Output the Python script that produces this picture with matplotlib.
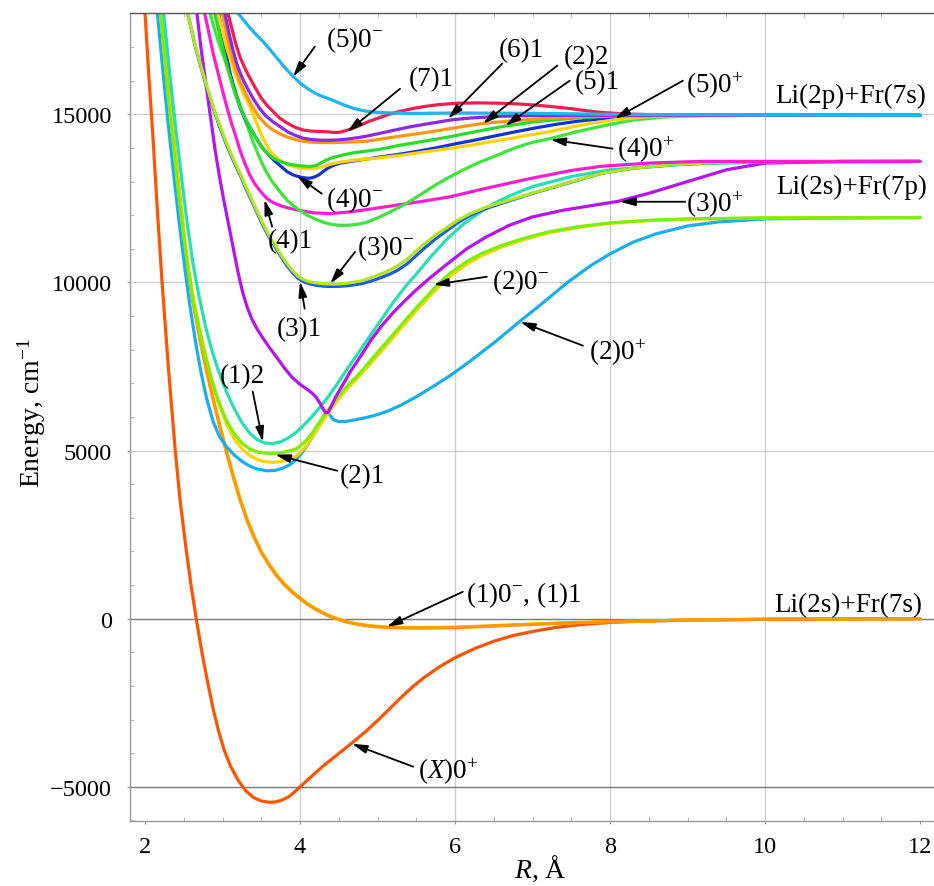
import numpy as np
import matplotlib
matplotlib.use('Agg')
import matplotlib.pyplot as plt

plt.rcParams['font.family'] = ['Liberation Serif', 'DejaVu Serif']
plt.rcParams['mathtext.fontset'] = 'custom'
plt.rcParams['mathtext.rm'] = 'Liberation Serif'
plt.rcParams['mathtext.it'] = 'Liberation Serif:italic'

# ---- potential curves (R in Angstrom, E in cm^-1) ----
# Li(2s)+Fr(7s)
R_X0p = [2.0, 2.05, 2.1, 2.16, 2.22, 2.3, 2.39, 2.45, 2.52, 2.59, 2.66, 2.73, 2.8, 2.88, 2.95, 3.02, 3.1,
         3.2, 3.3, 3.4, 3.5, 3.6, 3.68, 3.76, 3.85, 3.92, 4.0, 4.1, 4.2, 4.32, 4.45, 4.58, 4.7, 4.85, 5.0,
         5.15, 5.3, 5.45, 5.6, 5.8, 6.0, 6.25, 6.5, 6.75, 7.0, 7.3, 7.6, 8.0, 8.5, 9.0, 10.0, 11.0, 12.0]
E_X0p = [18000, 16100, 14400, 12100, 10000, 7500, 5000, 3570, 2250, 1050, 0, -950, -1800, -2700, -3350, -3900,
         -4370, -4800, -5120, -5320, -5420, -5460, -5450, -5400, -5300, -5170, -5000, -4790, -4580, -4340,
         -4100, -3860, -3640, -3350, -3030, -2690, -2350, -2030, -1750, -1430, -1160, -890, -670, -500, -380,
         -260, -180, -110, -65, -40, -15, -5, 0]

R_10m = [2.22, 2.3, 2.38, 2.46, 2.55, 2.62, 2.7, 2.79, 2.88, 2.96, 3.05, 3.14, 3.23, 3.32, 3.4, 3.5, 3.61,
         3.7, 3.8, 3.9, 4.0, 4.1, 4.2, 4.3, 4.39, 4.5, 4.6, 4.72, 4.85, 5.0, 5.12, 5.3, 5.5, 5.75, 6.0,
         6.25, 6.5, 7.0, 7.5, 8.0, 9.0, 10.0, 11.0, 12.0]
E_10m = [18000, 15900, 14000, 12300, 10400, 9400, 8400, 7400, 6500, 5750, 4950, 4200, 3500, 2900, 2450, 1970,
         1560, 1270, 1000, 780, 595, 420, 280, 160, 60, -30, -100, -160, -210, -245, -260, -275, -280, -278,
         -270, -245, -220, -170, -125, -90, -45, -20, -8, 0]
R_11 = R_10m
E_11 = [18000, 15950, 14050, 12350, 10450, 9450, 8450, 7450, 6550, 5800, 5000, 4250, 3540, 2940, 2490, 2000,
        1590, 1300, 1030, 810, 620, 445, 300, 180, 80, -12, -82, -142, -192, -228, -243, -258, -262, -260,
        -252, -230, -206, -158, -116, -84, -42, -18, -7, 0]

# Li(2s)+Fr(7p)
R_20p = [2.16, 2.23, 2.3, 2.38, 2.45, 2.52, 2.58, 2.65, 2.72, 2.8, 2.88, 2.96, 3.05, 3.15, 3.25, 3.35, 3.45,
         3.57, 3.68, 3.78, 3.87, 3.95, 4.03, 4.1, 4.17, 4.24, 4.3, 4.34, 4.38, 4.43, 4.5, 4.6, 4.72, 4.85,
         5.0, 5.15, 5.3, 5.5, 5.7, 5.95, 6.2, 6.5, 6.85, 7.1, 7.45, 7.75, 8.0, 8.3, 8.6, 9.0, 9.4, 10.0,
         11.0, 12.0]
E_20p = [18000, 16300, 14700, 13000, 11600, 10300, 9300, 8250, 7350, 6500, 5850, 5420, 5120, 4870, 4680, 4540,
         4450, 4400, 4410, 4480, 4580, 4740, 4950, 5180, 5450, 5750, 6000, 6130, 6070, 5920, 5860, 5870, 5920,
         5980, 6070, 6190, 6350, 6600, 6880, 7250, 7670, 8200, 8870, 9330, 10000, 10500, 10850, 11200, 11450,
         11680, 11800, 11890, 11920, 11930]

R_21 = [2.2, 2.27, 2.35, 2.42, 2.5, 2.56, 2.62, 2.7, 2.78, 2.86, 2.95, 3.05, 3.15, 3.25, 3.35, 3.45, 3.55,
        3.65, 3.75, 3.85, 3.96, 4.06, 4.16, 4.26, 4.36, 4.46, 4.6, 4.75, 4.9, 5.05, 5.2, 5.35, 5.5, 5.65,
        5.8, 5.95, 6.15, 6.35, 6.6, 6.9, 7.2, 7.6, 8.0, 8.5, 9.0, 10.0, 12.0]
E_21 = [18000, 16200, 14400, 12900, 11350, 10350, 9450, 8600, 7800, 7100, 6450, 5900, 5500, 5220, 5050, 4960,
        4920, 4910, 4930, 4980, 5060, 5250, 5530, 5880, 6200, 6500, 6900, 7250, 7650, 8050, 8450, 8850, 9250,
        9620, 10000, 10300, 10620, 10870, 11100, 11320, 11500, 11660, 11770, 11850, 11890, 11920, 11930]
R_20m = R_21
E_20m = [18000, 16300, 14600, 13050, 11500, 10450, 9600, 8650, 7850, 7100, 6400, 5800, 5350, 5050, 4850, 4730,
         4670, 4650, 4670, 4720, 4850, 5080, 5400, 5760, 6100, 6420, 6820, 7180, 7560, 7960, 8360, 8760, 9160,
         9530, 9900, 10210, 10540, 10800, 11050, 11280, 11470, 11640, 11760, 11840, 11885, 11918, 11930]

R_12 = [2.24, 2.32, 2.4, 2.48, 2.55, 2.62, 2.7, 2.78, 2.86, 2.95, 3.05, 3.15, 3.25, 3.35, 3.45, 3.55, 3.65,
        3.75, 3.85, 3.95, 4.05, 4.15, 4.25, 4.35, 4.45, 4.6, 4.75, 4.9, 5.05, 5.2, 5.35, 5.5, 5.7, 5.9, 6.1,
        6.3, 6.5, 6.75, 7.0, 7.5, 8.0, 9.0, 10.0, 12.0]
E_12 = [18000, 16200, 14500, 12950, 11650, 10550, 9550, 8700, 8000, 7350, 6750, 6250, 5830, 5520, 5320, 5220,
        5210, 5260, 5380, 5540, 5760, 6000, 6270, 6560, 6880, 7400, 7900, 8400, 8900, 9400, 9850, 10250, 10800,
        11300, 11720, 12050, 12350, 12620, 12850, 13150, 13350, 13520, 13580, 13600]

R_30p = [2.67, 2.72, 2.78, 2.84, 2.9, 2.96, 3.02, 3.08, 3.14, 3.2, 3.26, 3.32, 3.38, 3.45, 3.52, 3.6, 3.7,
         3.8, 3.9, 4.0, 4.08, 4.15, 4.21, 4.26, 4.3, 4.33, 4.36, 4.4, 4.46, 4.55, 4.65, 4.78, 4.92, 5.05,
         5.2, 5.35, 5.5, 5.7, 5.9, 6.15, 6.4, 6.7, 7.0, 7.4, 7.8, 8.1, 8.5, 9.0, 9.5, 10.0, 11.0, 12.0]
E_30p = [18000, 17000, 16000, 15000, 14000, 13150, 12400, 11700, 11000, 10300, 9700, 9250, 8900, 8600, 8350,
         8080, 7770, 7450, 7170, 6970, 6840, 6720, 6580, 6400, 6230, 6130, 6130, 6300, 6600, 6950, 7350, 7800,
         8300, 8700, 9100, 9450, 9780, 10180, 10550, 11000, 11350, 11700, 11950, 12150, 12300, 12410, 12650,
         13000, 13350, 13550, 13600, 13600]

R_31 = [2.55, 2.6, 2.65, 2.71, 2.77, 2.83, 2.88, 2.96, 3.05, 3.14, 3.23, 3.3, 3.38, 3.45, 3.52, 3.6, 3.68,
        3.76, 3.83, 3.9, 3.97, 4.04, 4.12, 4.2, 4.3, 4.39, 4.5, 4.6, 4.7, 4.81, 4.93, 5.05, 5.15, 5.25, 5.38,
        5.5, 5.62, 5.75, 5.9, 6.05, 6.2, 6.4, 6.6, 6.8, 7.0, 7.3, 7.6, 7.9, 8.3, 8.8, 9.4, 10.0, 12.0]
E_31 = [18000, 17500, 17000, 16500, 16000, 15550, 15180, 14650, 14100, 13620, 13180, 12800, 12400, 12050, 11700,
        11350, 11050, 10750, 10500, 10300, 10130, 10030, 9960, 9920, 9890, 9880, 9885, 9900, 9930, 9970, 10050,
        10150, 10240, 10350, 10550, 10800, 11050, 11300, 11550, 11800, 12000, 12200, 12350, 12500, 12650, 12850,
        13050, 13250, 13400, 13500, 13570, 13590, 13600]
R_30m = R_31
E_30m = [18000, 17520, 17030, 16530, 16040, 15590, 15220, 14700, 14150, 13670, 13230, 12850, 12450, 12100, 11750,
         11400, 11100, 10800, 10560, 10360, 10190, 10090, 10020, 9990, 9960, 9950, 9955, 9975, 10010, 10060, 10150,
         10260, 10360, 10480, 10690, 10940, 11180, 11410, 11640, 11870, 12050, 12240, 12380, 12520, 12660, 12860,
         13060, 13250, 13400, 13500, 13570, 13590, 13600]

R_41 = [2.77, 2.83, 2.88, 2.94, 3.0, 3.06, 3.12, 3.18, 3.23, 3.29, 3.35, 3.42, 3.5, 3.57, 3.65, 3.75, 3.87,
        4.0, 4.17, 4.4, 4.65, 4.9, 5.25, 5.6, 5.94, 6.4, 6.97, 7.5, 7.87, 8.5, 9.16, 10.0, 12.0]
E_41 = [18000, 17350, 16800, 16250, 15700, 15180, 14700, 14280, 13900, 13530, 13200, 12920, 12680, 12500, 12380,
        12280, 12200, 12140, 12070, 12050, 12100, 12180, 12300, 12420, 12550, 12800, 13090, 13330, 13450, 13550,
        13600, 13600, 13600]

# Li(2p)+Fr(7s)
R_40p = [2.84, 2.9, 2.97, 3.04, 3.1, 3.18, 3.25, 3.32, 3.39, 3.47, 3.55, 3.64, 3.74, 3.84, 3.95, 4.09, 4.2,
         4.3, 4.4, 4.5, 4.62, 4.74, 4.85, 5.0, 5.15, 5.3, 5.45, 5.6, 5.75, 5.9, 6.1, 6.3, 6.54, 6.75, 6.97,
         7.23, 7.6, 8.0, 8.3, 8.7, 9.2, 10.0, 12.0]
E_40p = [18000, 17500, 17000, 16550, 16160, 15600, 15100, 14650, 14200, 13750, 13350, 13000, 12700, 12430,
         12220, 12000, 11880, 11790, 11730, 11700, 11700, 11730, 11780, 11920, 12080, 12260, 12460, 12680, 12900,
         13100, 13340, 13560, 13780, 13980, 14150, 14280, 14500, 14700, 14830, 14920, 14960, 14970, 14970]

R_40m = [2.95, 3.0, 3.05, 3.1, 3.15, 3.23, 3.3, 3.38, 3.45, 3.52, 3.6, 3.68, 3.76, 3.83, 3.9, 3.96, 4.03, 4.1,
         4.15, 4.2, 4.25, 4.3, 4.36, 4.43, 4.52, 4.6, 4.8, 5.0, 5.25, 5.51, 5.75, 6.0, 6.25, 6.5, 6.8, 7.05,
         7.3, 7.6, 8.0, 8.5, 9.0, 10.0, 12.0]
E_40m = [18000, 17350, 16750, 16200, 15750, 15180, 14820, 14500, 14230, 13990, 13780, 13600, 13440, 13300, 13210,
         13160, 13120, 13100, 13110, 13150, 13210, 13300, 13400, 13480, 13550, 13580, 13650, 13720, 13800, 13900,
         14000, 14120, 14230, 14350, 14490, 14600, 14700, 14800, 14890, 14950, 14970, 14970, 14970]

R_50p = [2.94, 3.0, 3.05, 3.1, 3.15, 3.2, 3.27, 3.35, 3.42, 3.5, 3.58, 3.66, 3.75, 3.87, 3.96, 4.04, 4.13,
         4.22, 4.3, 4.4, 4.52, 4.65, 4.8, 5.0, 5.3, 5.6, 5.94, 6.2, 6.5, 6.85, 7.23, 7.5, 7.8, 8.1, 8.5, 9.0,
         10.0, 12.0]
E_50p = [18000, 17450, 17000, 16650, 16300, 16000, 15600, 15250, 14850, 14400, 14030, 13780, 13620, 13480,
         13420, 13390, 13380, 13400, 13450, 13520, 13580, 13620, 13660, 13700, 13780, 13880, 13990, 14080, 14200,
         14340, 14490, 14620, 14750, 14850, 14930, 14960, 14970, 14970]

R_51 = [2.9, 2.96, 3.02, 3.08, 3.15, 3.22, 3.3, 3.38, 3.46, 3.55, 3.65, 3.75, 3.85, 3.96, 4.05, 4.13, 4.2,
        4.26, 4.32, 4.38, 4.45, 4.55, 4.7, 5.0, 5.29, 5.6, 5.9, 6.3, 6.62, 7.0, 7.5, 8.0, 9.0, 12.0]
E_51 = [18000, 17400, 16800, 16250, 15700, 15250, 14850, 14500, 14180, 13900, 13700, 13590, 13520, 13480, 13460,
        13450, 13470, 13540, 13620, 13680, 13730, 13790, 13860, 13950, 14080, 14200, 14320, 14500, 14640, 14770,
        14880, 14950, 14970, 14970]

R_22 = [3.0, 3.05, 3.1, 3.16, 3.22, 3.3, 3.38, 3.46, 3.55, 3.64, 3.74, 3.84, 3.94, 4.04, 4.15, 4.27, 4.4, 4.6,
        4.86, 5.2, 5.6, 6.0, 6.36, 6.7, 7.0, 7.5, 8.0, 9.0, 12.0]
E_22 = [18000, 17400, 16900, 16400, 16000, 15600, 15250, 14950, 14720, 14550, 14420, 14320, 14250, 14200, 14170,
        14160, 14160, 14170, 14200, 14320, 14450, 14600, 14730, 14800, 14850, 14920, 14950, 14970, 14970]

R_61 = [3.03, 3.08, 3.13, 3.19, 3.25, 3.32, 3.4, 3.48, 3.56, 3.65, 3.74, 3.84, 3.94, 4.04, 4.15, 4.27, 4.39,
        4.5, 4.6, 4.73, 4.86, 5.0, 5.2, 5.4, 5.6, 5.94, 6.2, 6.58, 7.0, 7.5, 8.0, 9.0, 12.0]
E_61 = [18000, 17450, 16950, 16460, 16100, 15780, 15450, 15170, 14950, 14780, 14640, 14480, 14370, 14290, 14250,
        14230, 14230, 14240, 14260, 14300, 14350, 14420, 14520, 14620, 14700, 14830, 14890, 14940, 14960, 14970,
        14970, 14970, 14970]

R_71 = [3.07, 3.12, 3.17, 3.23, 3.32, 3.42, 3.5, 3.58, 3.65, 3.73, 3.82, 3.92, 4.04, 4.15, 4.25, 4.35, 4.45,
        4.52, 4.6, 4.7, 4.8, 4.9, 5.0, 5.15, 5.29, 5.45, 5.6, 5.8, 6.03, 6.3, 6.58, 6.8, 7.0, 7.2, 7.45, 7.65,
        7.87, 8.2, 8.6, 9.5, 12.0]
E_71 = [18000, 17550, 17100, 16670, 16220, 15800, 15480, 15250, 15090, 14900, 14760, 14630, 14530, 14500, 14490,
        14480, 14460, 14470, 14520, 14600, 14700, 14800, 14880, 15000, 15090, 15170, 15230, 15290, 15330, 15340,
        15330, 15310, 15280, 15240, 15180, 15120, 15060, 15010, 14985, 14970, 14970]

R_50m = [3.2, 3.28, 3.35, 3.43, 3.52, 3.6, 3.7, 3.8, 3.91, 4.0, 4.1, 4.2, 4.3, 4.39, 4.5, 4.6, 4.7, 4.81, 4.93,
         5.05, 5.2, 5.4, 5.6, 6.0, 7.0, 8.0, 9.0, 10.0, 12.0]
E_50m = [18000, 17780, 17580, 17380, 17170, 16960, 16680, 16400, 16130, 15930, 15760, 15620, 15520, 15450, 15340,
         15250, 15170, 15110, 15070, 15050, 15040, 15030, 15030, 15040, 15030, 15000, 14985, 14975, 14970]

curves = [
    (R_X0p, E_X0p, '#ff5500'),
    (R_11, E_11, '#f2b705'),
    (R_10m, E_10m, '#ff9900'),
    (R_20p, E_20p, '#1aaeef'),
    (R_20m, E_20m, '#ffd400'),
    (R_21, E_21, '#80ee00'),
    (R_12, E_12, '#26e0b4'),
    (R_30p, E_30p, '#b414f0'),
    (R_31, E_31, '#1e5ae6'),
    (R_30m, E_30m, '#b0e61e'),
    (R_41, E_41, '#ff1ecf'),
    (R_40p, E_40p, '#3ce63c'),
    (R_40m, E_40m, '#1432dc'),
    (R_50p, E_50p, '#ffd200'),
    (R_51, E_51, '#28dc28'),
    (R_22, E_22, '#ff9614'),
    (R_61, E_61, '#8c28e6'),
    (R_71, E_71, '#f01e50'),
    (R_50m, E_50m, '#1eb4f0'),
]

# labels: text, text centre (R, E), arrow tail, arrow tip
labels = [
    ('(5)0$^{-}$', (4.71, 17250), (4.19, 17010), (3.91, 16120)),
    ('(7)1', (5.70, 16060), (5.29, 15760), (4.61, 14480)),
    ('(6)1', (6.85, 16920), (6.61, 16510), (5.91, 14870)),
    ('(2)2', (7.69, 16710), (7.32, 16450), (6.36, 14720)),
    ('(5)1', (7.83, 15970), (7.48, 16000), (6.65, 14660)),
    ('(5)0$^{+}$', (9.35, 15880), (8.94, 16000), (8.06, 14870)),
    ('(4)0$^{+}$', (8.46, 13980), (8.03, 13980), (7.23, 14250)),
    ('(3)0$^{+}$', (9.35, 12340), (8.97, 12400), (8.13, 12400)),
    ('(4)0$^{-}$', (4.70, 12490), (4.28, 12640), (3.96, 13170)),
    ('(4)1', (3.87, 11240), (3.64, 11660), (3.54, 12460)),
    ('(3)0$^{-}$', (5.10, 11060), (4.71, 10910), (4.39, 9960)),
    ('(3)1', (3.99, 8620), (4.06, 9220), (4.00, 10020)),
    ('(2)0$^{-}$', (6.84, 10050), (6.41, 10170), (5.72, 9930)),
    ('(2)0$^{+}$', (8.10, 7940), (7.65, 8120), (6.84, 8830)),
    ('(1)2', (3.25, 7230), (3.39, 6750), (3.52, 5260)),
    ('(2)1', (4.81, 4250), (4.48, 4400), (3.68, 4880)),
    ('(1)0$^{-}$, (1)1', (6.89, 740), (6.10, 800), (5.12, -240)),
    ('($X$)0$^{+}$', (5.91, -4520), (5.46, -4400), (4.67, -3720)),
]
limits = [
    ('Li(2p)+Fr(7s)', (11.11, 15550)),
    ('Li(2s)+Fr(7p)', (11.12, 12850)),
    ('Li(2s)+Fr(7s)', (11.07, 420)),
]

fig = plt.figure(figsize=(9.34, 8.87), dpi=100)
ax = fig.add_axes([130 / 934, 1 - 822 / 887, 804 / 934, 808 / 887])
ax.set_xlim(1.806, 12.18)
ax.set_ylim(-6016, 18013)

# grid
for x in [4, 6, 8, 10]:
    ax.axvline(x, color='#cfcfcf', lw=1.0, zorder=0)
for y in [5000, 10000, 15000]:
    ax.axhline(y, color='#cfcfcf', lw=1.0, zorder=0)
for y in [0, -5000]:
    ax.axhline(y, color='#7a7a7a', lw=1.0, zorder=0)

for R, E, c in curves:
    ax.plot(R, E, color=c, lw=2.3, solid_capstyle='round', solid_joinstyle='round', zorder=2)

for txt, pos, tail, tip in labels:
    ax.text(pos[0], pos[1], txt, fontsize=19.5, ha='center', va='center', zorder=4)
    ax.annotate('', xy=tip, xytext=tail,
                arrowprops=dict(arrowstyle='-|>,head_length=0.9,head_width=0.25',
                                color='black', lw=1.3, shrinkA=0, shrinkB=0), zorder=4)

for txt, pos in limits:
    ax.text(pos[0], pos[1], txt, fontsize=19.5, ha='center', va='center', zorder=4)

# axes styling
ax.spines['right'].set_visible(False)
ax.spines['top'].set_color('#555555')
ax.spines['left'].set_color('#999999')
ax.spines['bottom'].set_color('#999999')
for s in ['top', 'left', 'bottom']:
    ax.spines[s].set_linewidth(1.0)

ax.set_xticks([2, 4, 6, 8, 10, 12])
ax.set_xticks(np.arange(2, 12.01, 0.5), minor=True)
ax.set_yticks([-5000, 0, 5000, 10000, 15000])
ax.set_yticks(np.arange(-6000, 18001, 1000), minor=True)
ax.set_yticklabels(['\u22125000', '0', '5000', '10000', '15000'])
ax.tick_params(axis='both', which='major', labelsize=17.5, length=2, direction='out', color='#999999')
ax.tick_params(axis='x', which='major', pad=9)
ax.tick_params(axis='y', which='major', pad=11)
ax.tick_params(axis='both', which='minor', length=3, direction='in', color='#aaaaaa', top=True)

fig.text(32 / 934, 1 - 413 / 887, 'Energy, cm$^{-1}$', rotation=90, fontsize=20,
         ha='center', va='center')
fig.text(540 / 934, 1 - 878 / 887, '$R$, Å', fontsize=20, ha='center', va='baseline')

fig.savefig('out.png', dpi=100)
